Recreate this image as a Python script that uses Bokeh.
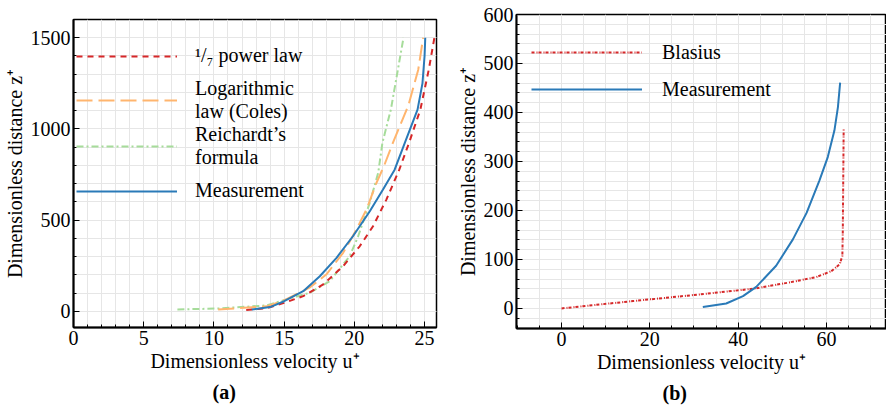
from bokeh.plotting import figure
from bokeh.models import (Range1d, SingleIntervalTicker, Legend, LegendItem, Title)
from bokeh.layouts import row, column
from bokeh.embed import file_html
from bokeh.resources import INLINE

FONT = "Liberation Serif"

# ---- panel (a): turbulent profiles ----
pow_u = [12.3, 13.75, 15.0, 16.36, 17.78, 19.2, 20.38, 21.33, 22.28, 23.2, 23.9, 24.7, 25.3, 25.7]
pow_z = [8, 18, 47, 84, 148, 248, 357, 467, 613, 777, 925, 1106, 1325, 1500]

log_u = [10.3, 13.75, 15.1, 16.8, 18.0, 19.2, 20.03, 20.86, 21.57, 22.1, 22.75, 23.85, 24.55, 24.9]
log_z = [11, 28, 64, 130, 202, 321, 432, 558, 704, 795, 925, 1130, 1325, 1500]

reich_u = [7.4, 10.3, 13.75, 15.0, 16.8, 18.25, 19.67, 20.27, 21.1, 21.7, 22.0, 22.6, 23.1, 23.5]
reich_z = [11, 16, 33, 62, 102, 166, 303, 412, 596, 760, 925, 1106, 1325, 1500]

meas_a_u = [12.7, 14.0, 15.0, 16.36, 17.54, 18.73, 19.9, 21.1, 22.04, 22.87, 23.6, 24.5, 24.85, 25.0, 25.05]
meas_a_z = [11, 24, 56, 111, 193, 294, 412, 549, 668, 777, 925, 1106, 1250, 1400, 1500]

# ---- panel (b): laminar comparison ----
blas_u = [0, 16.2, 31.3, 43.3, 51.6, 57.7, 61.1, 63.0, 63.6, 63.7, 63.9]
blas_z = [0, 15, 28.6, 40, 53, 64, 76, 90, 107, 155, 367]

meas_b_u = [32.0, 37.3, 41.1, 44.1, 48.6, 52.4, 55.5, 58.4, 60.3, 61.8, 62.6, 63.1]
meas_b_z = [3, 10, 25, 44, 87, 141, 195, 261, 309, 363, 411, 461]

RED = "#d62728"
ORANGE = "#ffb56e"
GREEN = "#a6dc9a"
BLUE = "#2a7ab8"
GRID = "#e6e6e6"


def style(p, xint, xminor, yint, yminor):
    p.xaxis.ticker = SingleIntervalTicker(interval=xint, num_minor_ticks=xminor)
    p.yaxis.ticker = SingleIntervalTicker(interval=yint, num_minor_ticks=yminor)
    for ax in (p.xaxis, p.yaxis):
        ax.axis_line_color = "black"
        ax.axis_line_width = 2
        ax.major_tick_in = 6
        ax.major_tick_out = 0
        ax.minor_tick_in = 3
        ax.minor_tick_out = 0
        ax.major_tick_line_color = "black"
        ax.minor_tick_line_color = "black"
        ax.major_label_text_font = FONT
        ax.major_label_text_font_size = "20px"
        ax.major_label_text_color = "black"
        ax.axis_label_text_font = FONT
        ax.axis_label_text_font_size = "20px"
        ax.axis_label_text_font_style = "normal"
        ax.axis_label_text_color = "black"
        ax.major_label_standoff = 3
        ax.axis_label_standoff = 2
    for g in (p.xgrid, p.ygrid):
        g.grid_line_color = GRID
        g.grid_line_width = 1
        g.minor_grid_line_color = GRID
        g.minor_grid_line_width = 1
    p.background_fill_color = "white"
    p.border_fill_color = "white"
    p.outline_line_color = "black"
    p.outline_line_width = 1.5
    p.outline_line_alpha = 1


def panel_tag(p, text, offset):
    t = Title(text=text, align="left", offset=offset, text_font=FONT, text_font_size="20px",
              text_font_style="bold", text_color="black", standoff=8)
    p.add_layout(t, "below")


# ---------------- panel (a) ----------------
p1 = figure(width=439, height=407, x_range=Range1d(0, 25.85), y_range=Range1d(-88, 1600),
            output_backend="svg", toolbar_location=None,
            min_border_left=72, min_border_right=3, min_border_top=19, min_border_bottom=80)
style(p1, 5, 5, 500, 5)
p1.xaxis.axis_label = "Dimensionless velocity u⁺"
p1.yaxis.axis_label = "Dimensionless distance z⁺"

r_rei = p1.line(reich_u, reich_z, line_color=GREEN, line_width=2, line_dash="7 3 2 3")
r_log = p1.line(log_u, log_z, line_color=ORANGE, line_width=2, line_dash="16 6")
r_pow = p1.line(pow_u, pow_z, line_color=RED, line_width=2, line_dash="6 5")
r_mea = p1.line(meas_a_u, meas_a_z, line_color=BLUE, line_width=2)

leg1 = Legend(items=[
    LegendItem(label="¹/₇ power law", renderers=[r_pow]),
    LegendItem(label="Logarithmic\nlaw (Coles)", renderers=[r_log]),
    LegendItem(label="Reichardt’s\nformula", renderers=[r_rei]),
    LegendItem(label="Measurement", renderers=[r_mea]),
], location=(3, 115), glyph_width=101, glyph_height=20, label_height=43,
    label_standoff=18, spacing=0, padding=0, margin=0,
    border_line_color=None, background_fill_alpha=0,
    label_text_font=FONT, label_text_font_size="20px", label_text_line_height=0.9,
    label_text_color="black")
p1.add_layout(leg1)
panel_tag(p1, "(a)", 139)

# ---------------- panel (b) ----------------
p2 = figure(width=447, height=407, x_range=Range1d(-10.2, 73.6), y_range=Range1d(-41, 600),
            output_backend="svg", toolbar_location=None,
            min_border_left=77, min_border_right=0, min_border_top=14, min_border_bottom=79)
style(p2, 20, 4, 100, 5)
p2.xaxis.axis_label = "Dimensionless velocity u⁺"
p2.yaxis.axis_label = "Dimensionless distance z⁺"

r_bla = p2.line(blas_u, blas_z, line_color=RED, line_width=2, line_dash="3 2 1 1")
r_meb = p2.line(meas_b_u, meas_b_z, line_color=BLUE, line_width=2)

leg2 = Legend(items=[
    LegendItem(label="Blasius", renderers=[r_bla]),
    LegendItem(label="Measurement", renderers=[r_meb]),
], location=(15, 222), glyph_width=111, glyph_height=20, label_height=34,
    label_standoff=20, spacing=3, padding=0, margin=0,
    border_line_color=None, background_fill_alpha=0,
    label_text_font=FONT, label_text_font_size="20px", label_text_line_height=1.0,
    label_text_color="black")
p2.add_layout(leg2)
panel_tag(p2, "(b)", 146)

layout = row(column(p1), column(p2))
open("out.html", "w").write(file_html(layout, INLINE))
